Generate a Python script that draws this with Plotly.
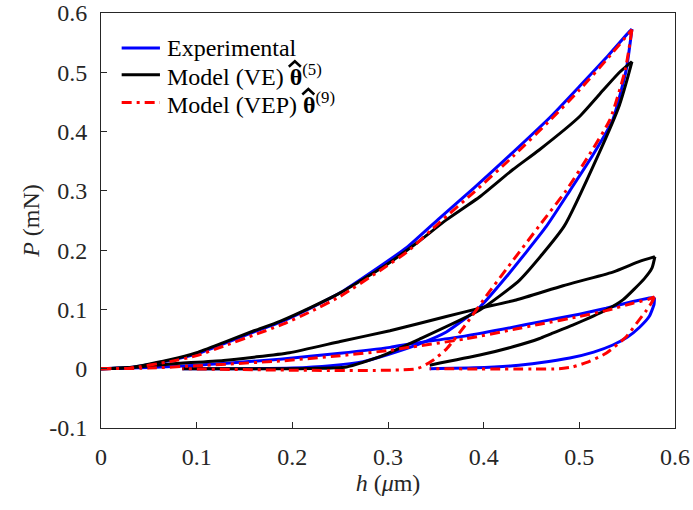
import plotly.graph_objects as go

# ---- Experimental (blue) ----
exp_l1_load_h = [0, 0.03, 0.072, 0.1, 0.128, 0.16, 0.187, 0.22, 0.25, 0.291, 0.32, 0.354, 0.39, 0.4306, 0.47, 0.5, 0.53, 0.5525, 0.555]
exp_l1_load_P = [0, 0.002, 0.014, 0.025, 0.042, 0.062, 0.078, 0.103, 0.128, 0.172, 0.205, 0.254, 0.305, 0.365, 0.425, 0.476, 0.528, 0.569, 0.573]
exp_l1_unl_h = [0.555, 0.549, 0.535, 0.514, 0.49, 0.4655, 0.4237, 0.396, 0.361, 0.333, 0.30, 0.274, 0.24, 0.2, 0.15, 0.085]
exp_l1_unl_P = [0.573, 0.504, 0.42, 0.36, 0.30, 0.24, 0.155, 0.104, 0.062, 0.042, 0.024, 0.012, 0.005, 0.001, 0.0, 0.0]
exp_l2_load_h = [0, 0.05, 0.1, 0.128, 0.187, 0.25, 0.302, 0.326, 0.38, 0.4306, 0.4585, 0.5, 0.528, 0.555, 0.572, 0.5786]
exp_l2_load_P = [0, 0.002, 0.006, 0.009, 0.016, 0.026, 0.036, 0.0425, 0.055, 0.07, 0.079, 0.092, 0.102, 0.113, 0.119, 0.120]
exp_l2_unl_h = [0.5786, 0.578, 0.573, 0.563, 0.55, 0.535, 0.515, 0.49, 0.4585, 0.4306, 0.39, 0.3436]
exp_l2_unl_P = [0.120, 0.108, 0.088, 0.070, 0.053, 0.040, 0.028, 0.018, 0.010, 0.005, 0.0015, 0.0]

# ---- Model (VE) (black) ----
ve_l1_load_h = [0, 0.03, 0.072, 0.1, 0.128, 0.16, 0.187, 0.22, 0.25, 0.298, 0.33, 0.361, 0.396, 0.4306, 0.458, 0.5, 0.525, 0.542, 0.555]
ve_l1_load_P = [0, 0.002, 0.015, 0.027, 0.044, 0.064, 0.08, 0.104, 0.128, 0.175, 0.212, 0.251, 0.29, 0.336, 0.369, 0.425, 0.47, 0.5, 0.518]
ve_l1_unl_h = [0.555, 0.55, 0.542, 0.521, 0.484, 0.4376, 0.396, 0.333, 0.291, 0.2566, 0.22, 0.085]
ve_l1_unl_P = [0.518, 0.488, 0.445, 0.365, 0.24, 0.1495, 0.099, 0.05, 0.020, 0.003, 0.0005, 0.0]
ve_l2_load_h = [0, 0.04, 0.072, 0.128, 0.197, 0.25, 0.302, 0.361, 0.396, 0.434, 0.483, 0.535, 0.563, 0.579]
ve_l2_load_P = [0, 0.003, 0.008, 0.014, 0.027, 0.046, 0.064, 0.088, 0.102, 0.116, 0.14, 0.163, 0.181, 0.189]
ve_l2_unl_h = [0.579, 0.576, 0.568, 0.5455, 0.528, 0.493, 0.469, 0.4585, 0.4306, 0.396, 0.3436]
ve_l2_unl_P = [0.189, 0.17, 0.152, 0.116, 0.099, 0.0735, 0.058, 0.051, 0.037, 0.023, 0.006]

# ---- Model (VEP) (red dash-dot) ----
vep_l1_load_h = [0, 0.03, 0.072, 0.1, 0.128, 0.16, 0.187, 0.22, 0.25, 0.291, 0.32, 0.354, 0.39, 0.4306, 0.47, 0.5, 0.53, 0.555]
vep_l1_load_P = [0, 0.001, 0.012, 0.022, 0.038, 0.057, 0.073, 0.097, 0.122, 0.165, 0.197, 0.247, 0.298, 0.358, 0.42, 0.47, 0.524, 0.572]
vep_l1_unl_h = [0.555, 0.548, 0.532, 0.51, 0.486, 0.46, 0.42, 0.406, 0.382, 0.361, 0.345, 0.33, 0.085]
vep_l1_unl_P = [0.572, 0.504, 0.42, 0.36, 0.30, 0.245, 0.16, 0.13, 0.076, 0.033, 0.012, 0.0, 0.0]
vep_l2_load_h = [0, 0.05, 0.1, 0.187, 0.25, 0.302, 0.326, 0.38, 0.4306, 0.4585, 0.5, 0.528, 0.555, 0.572, 0.5786]
vep_l2_load_P = [0, 0.001, 0.005, 0.013, 0.022, 0.031, 0.037, 0.05, 0.066, 0.075, 0.088, 0.098, 0.11, 0.117, 0.121]
vep_l2_unl_h = [0.5786, 0.575, 0.570, 0.56, 0.549, 0.528, 0.51, 0.493, 0.479, 0.3436]
vep_l2_unl_P = [0.121, 0.11, 0.098, 0.077, 0.054, 0.026, 0.012, 0.003, 0.0, 0.0]

x_ticks = [0, 0.1, 0.2, 0.3, 0.4, 0.5, 0.6]
x_tick_labels = ["0", "0.1", "0.2", "0.3", "0.4", "0.5", "0.6"]
y_ticks = [-0.1, 0, 0.1, 0.2, 0.3, 0.4, 0.5, 0.6]
y_tick_labels = ["-0.1", "0", "0.1", "0.2", "0.3", "0.4", "0.5", "0.6"]

names = ["Experimental",
         "Model (VE) <b>\u03b8</b><sup>(5)</sup>",
         "Model (VEP) <b>\u03b8</b><sup>(9)</sup>"]
colors = ["#0000ff", "#000000", "#ff0000"]
dashes = ["solid", "solid", "10px,5px,3px,5px"]


def join(*segs):
    xs, ys = [], []
    for i in range(0, len(segs), 2):
        if xs:
            xs.append(None)
            ys.append(None)
        xs += segs[i]
        ys += segs[i + 1]
    return xs, ys


FONT = "Liberation Serif, Times New Roman, serif"
TXT = "#262626"

series = [
    join(exp_l1_load_h, exp_l1_load_P, exp_l1_unl_h, exp_l1_unl_P,
         exp_l2_load_h, exp_l2_load_P, exp_l2_unl_h, exp_l2_unl_P),
    join(ve_l1_load_h, ve_l1_load_P, ve_l1_unl_h, ve_l1_unl_P,
         ve_l2_load_h, ve_l2_load_P, ve_l2_unl_h, ve_l2_unl_P),
    join(vep_l1_load_h, vep_l1_load_P, vep_l1_unl_h, vep_l1_unl_P,
         vep_l2_load_h, vep_l2_load_P, vep_l2_unl_h, vep_l2_unl_P),
]

fig = go.Figure()
for (xs, ys), nm, c, d in zip(series, names, colors, dashes):
    fig.add_trace(go.Scatter(x=xs, y=ys, mode="lines", name=nm, showlegend=False,
                             line=dict(color=c, width=3, dash=d, shape="spline", smoothing=0.5)))

# manual legend (line samples + labels) in paper coordinates
leg_rows_y = [0.9155, 0.851, 0.7843]
for nm, c, d, yy in zip(names, colors, dashes, leg_rows_y):
    fig.add_shape(type="line", xref="paper", yref="paper", x0=0.036, x1=0.1027, y0=yy, y1=yy,
                  line=dict(color=c, width=3, dash=d))
    fig.add_annotation(xref="paper", yref="paper", x=0.1114, y=yy, xanchor="left", yanchor="middle",
                       text=nm, showarrow=False, font=dict(family=FONT, size=24, color="#000000"))

# hat accents over the bold theta symbols of the legend labels
for (xl, xm, xr), (yb, yt) in [((0.3272, 0.3377, 0.3481), (0.8704, 0.8837)),
                               ((0.3507, 0.3612, 0.3716), (0.8036, 0.8168))]:
    fig.add_shape(type="path", xref="paper", yref="paper",
                  path=f"M {xl},{yb} L {xm},{yt} L {xr},{yb}",
                  line=dict(color="#000000", width=2.5))

axis_common = dict(showgrid=False, zeroline=False, showline=True, linecolor=TXT,
                   linewidth=1, mirror=True, ticks="inside", ticklen=6, tickcolor=TXT,
                   ticklabeloverflow="allow",
                   tickfont=dict(family=FONT, size=24, color=TXT))

fig.update_xaxes(range=[0, 0.6], tickvals=x_ticks, ticktext=x_tick_labels, ticklabelstandoff=7,
                 title=dict(text="<i>h</i> (<i>μ</i>m)", font=dict(family=FONT, size=24, color=TXT),
                            standoff=4),
                 **axis_common)
fig.update_yaxes(range=[-0.1, 0.6], tickvals=y_ticks, ticktext=y_tick_labels, ticklabelstandoff=8,
                 title=dict(text="<i>P</i> (mN)", font=dict(family=FONT, size=24, color=TXT),
                            standoff=2),
                 **axis_common)

fig.update_layout(
    width=693, height=510,
    margin=dict(l=101, r=17.5, t=13.3, b=82.3, autoexpand=False),
    paper_bgcolor="white", plot_bgcolor="white",
    font=dict(family=FONT, size=24, color="#000000"),
    showlegend=False,
)

# remove the default 8px page margin so the 693x510 figure fills the window exactly
fig.write_html("out.html", config={"displayModeBar": False},
               post_script="document.body.style.margin='0';document.body.style.overflow='hidden';")
